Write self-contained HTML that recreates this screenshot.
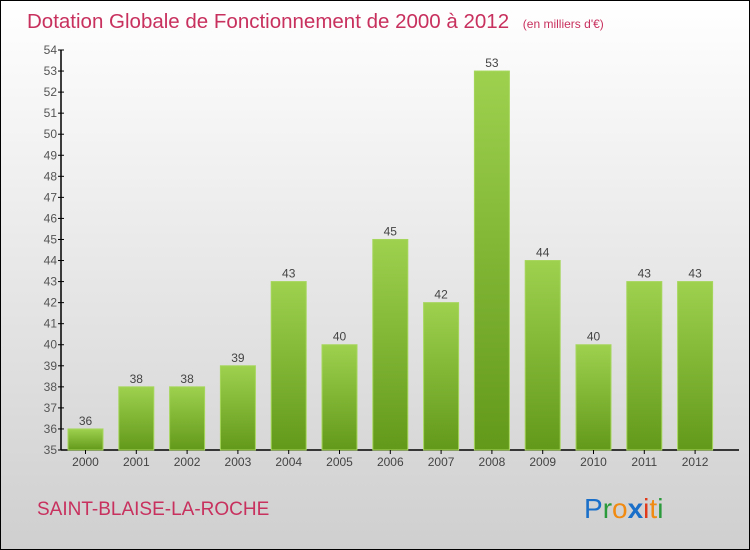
<!DOCTYPE html>
<html><head><meta charset="utf-8"><style>
html,body{margin:0;padding:0}
body{width:750px;height:550px;overflow:hidden;font-family:"Liberation Sans",sans-serif}
#wrap{position:relative;width:748px;height:548px;border:1px solid #000;background:linear-gradient(#ffffff,#cfcfcf)}
</style></head><body>
<div id="wrap">
<svg id="svg" width="748" height="548" style="position:absolute;left:0;top:0">
<defs><linearGradient id="bg" x1="0" y1="0" x2="0" y2="1"><stop offset="0" stop-color="#9dd14e"/><stop offset="1" stop-color="#63991a"/></linearGradient></defs>
<text x="26" y="27" font-size="20.5" fill="#c8305e">Dotation Globale de Fonctionnement de 2000 à 2012 <tspan font-size="12" dx="8">(en milliers d'€)</tspan></text>
<text x="36" y="514" font-size="19" fill="#c8305e">SAINT-BLAISE-LA-ROCHE</text>
<g font-size="28" font-family="'Liberation Sans',sans-serif">
<text x="583" y="517"><tspan fill="#1a6fc9">P</tspan><tspan fill="#2a9a3a">r</tspan><tspan fill="#f08a10">o</tspan><tspan fill="#1a6fc9" font-weight="bold">x</tspan><tspan fill="#e03a1a">i</tspan><tspan fill="#f08a10">t</tspan><tspan fill="#2a9a3a">i</tspan></text>
</g>
<g id="plot"></g>
</svg>
</div>
<script>
const years=["2000","2001","2002","2003","2004","2005","2006","2007","2008","2009","2010","2011","2012"];
const values=[36,38,38,39,43,40,45,42,53,44,40,43,43];
const yTicks=[35,36,37,38,39,40,41,42,43,44,45,46,47,48,49,50,51,52,53,54];
const NS="http://www.w3.org/2000/svg";
const g=document.getElementById('plot');
const x0=60,yMin=35,yMax=54,pyBot=449,pyTop=49,step=50.8,bw=35,xEnd=738;
function yS(v){return pyBot-(v-yMin)*(pyBot-pyTop)/(yMax-yMin);}
function xC(i){return x0+24.5+i*step;}
function el(t,a){const e=document.createElementNS(NS,t);for(const k in a)e.setAttribute(k,a[k]);g.appendChild(e);return e;}
let ax=el('line',{x1:x0,y1:pyTop,x2:x0,y2:pyBot,stroke:'#000','stroke-width':1.5});


let bx=el('line',{x1:x0,y1:pyBot,x2:xEnd,y2:pyBot,stroke:'#000','stroke-width':1.5});


yTicks.forEach(v=>{
  const y=yS(v);
  el('line',{x1:x0-3,y1:y,x2:x0+3,y2:y,stroke:'#000'});
  const t=el('text',{x:x0-4,y:y+4,'text-anchor':'end','font-size':12,fill:'#555'});
  t.textContent=v;
  
  
});
years.forEach((yr,i)=>{
  const c=xC(i),v=values[i],y=yS(v);
  const r=el('rect',{x:c-bw/2,y:y,width:bw,height:pyBot-y,fill:'url(#bg)',stroke:'#a6d65c','stroke-width':1});
  
  
  const lt=el('text',{x:c,y:y-4,'text-anchor':'middle','font-size':12,fill:'#444'});
  lt.textContent=v;
  
  
  el('line',{x1:c,y1:pyBot,x2:c,y2:pyBot+4,stroke:'#000'});
  const xt=el('text',{x:c,y:pyBot+16,'text-anchor':'middle','font-size':12,fill:'#444'});
  xt.textContent=yr;
  
  
});
</script>
</body></html>
